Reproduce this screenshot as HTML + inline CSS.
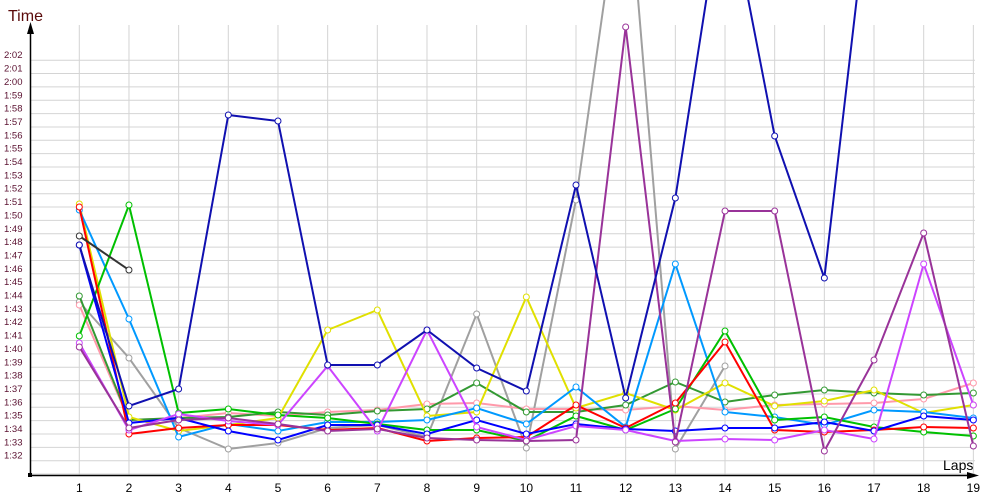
<!DOCTYPE html>
<html><head><meta charset="utf-8"><style>body{margin:0;background:#fff}svg{display:block}</style></head><body>
<svg id="c" width="1000" height="500" xmlns="http://www.w3.org/2000/svg" font-family="Liberation Sans, sans-serif"></svg>
<script>
const s=document.getElementById('c');let h='';
const X=i=>79.3+(i-1)*49.67;
for(let i=1;i<=19;i++)h+=`<line x1="${X(i)}" y1="25" x2="${X(i)}" y2="475" stroke="#d4d4d4"/>`;
for(let v=91;v<=122;v++){const y=460.7-(v-92)*13.35;h+=`<line x1="30" y1="${y}" x2="975" y2="${y}" stroke="#d4d4d4"/>`;
 if(v>=92){const m=Math.floor(v/60),sec=v%60;h+=`<text x="4" y="${y-2}" font-size="9.5" fill="#5a1030">${m}:${String(sec).padStart(2,'0')}</text>`;}}
for(let i=1;i<=19;i++)h+=`<text x="${X(i)}" y="492" font-size="12" text-anchor="middle" fill="#000">${i}</text>`;
h+=`<line x1="30.5" y1="476" x2="30.5" y2="30" stroke="#000" stroke-width="1.5"/><polygon points="30.5,22 27,34 34,34" fill="#000"/>`;
h+=`<line x1="30" y1="475.5" x2="975" y2="475.5" stroke="#000" stroke-width="1.5"/><polygon points="979,475.5 967,472 967,479" fill="#000"/><rect x="28" y="473" width="4" height="4" fill="#000"/>`;
h+=`<text x="8" y="21" font-size="16" fill="#5a0a0a">Time</text><text x="943" y="470" font-size="14" fill="#000">Laps</text>`;
const S=[
['#a0a0a0',[302,358,428,449,443,428,425,437,314,448,200,-150,449,366]],
['#ff99aa',[305,420,418,413,416,412,410,404,403,409,409,410,406,410,405,404,403,399,383]],
['#339933',[296,420,418,417,412,415,411,409,383,412,412,405,382,402,395,390,393,395,393]],
['#e0e000',[204,417,431,425,418,330,310,416,412,297,408,393,410,383,406,401,390,413,405]],
['#0099ff',[210,319,437,424,431,422,422,420,408,424,387,427,264,412,417,425,410,412,418]],
['#00c000',[336,205,413,409,415,418,424,430,430,441,416,430,409,331,420,417,427,432,436]],
['#ff0000',[207,434,428,425,425,430,428,441,438,437,405,428,403,342,430,432,430,427,428]],
['#0000ff',[245,423,418,431,440,425,425,434,420,434,424,429,431,428,428,422,431,416,420]],
['#cc44ff',[343,430,414,421,425,366,431,330,427,440,426,430,441,439,440,430,439,264,405]],
['#993399',[347,428,420,418,424,431,429,438,440,441,440,27,442,211,211,451,360,233,446]],
['#1010b0',[245,406,389,115,121,365,365,330,368,391,185,398,198,-120,136,278,-150]],
['#333333',[236,270]]];
for(const [c,d] of S){h+=`<polyline fill="none" stroke="${c}" stroke-width="2" points="${d.map((y,i)=>X(i+1)+','+y).join(' ')}"/>`;
 d.forEach((y,i)=>{if(y>0&&y<480)h+=`<circle cx="${X(i+1)}" cy="${y}" r="3" fill="#fff" stroke="${c}" stroke-width="1"/>`});}
s.innerHTML=h;
</script>
</body></html>
